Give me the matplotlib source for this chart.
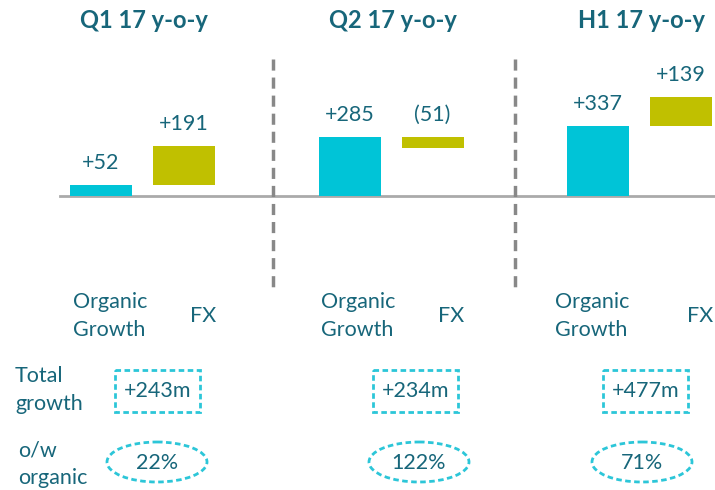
import matplotlib
matplotlib.use("Agg")
import matplotlib.pyplot as plt
from matplotlib.patches import Rectangle, Ellipse

plt.rcParams['font.family'] = ['Lato', 'DejaVu Sans']
plt.rcParams['lines.scale_dashes'] = False

# --- data ---
periods = ['Q1 17 y-o-y', 'Q2 17 y-o-y', 'H1 17 y-o-y']
organic = [52, 285, 337]
fx = [191, -51, 139]
organic_labels = ['+52', '+285', '+337']
fx_labels = ['+191', '(51)', '+139']
total_labels = ['+243m', '+234m', '+477m']
share_labels = ['22%', '122%', '71%']

TEXT = '#17667a'
CYAN = '#00c4d7'
OLIVE = '#c0c000'
DASH = '#2cc6d8'
FS = 15.5

W, H = 715, 490
fig = plt.figure(figsize=(W / 100, H / 100), dpi=100)

# value axis: 0.207 px per unit, baseline 196 px from top
px_per_unit = 0.207
ax = fig.add_axes([0, 0, 1, 1])
ax.set_xlim(0, W)
ax.set_ylim(-(H - 196) / px_per_unit, 196 / px_per_unit)
ax.axis('off')

# overlay in pixel coords (y downwards) for the text furniture
ov = fig.add_axes([0, 0, 1, 1], facecolor='none')
ov.set_xlim(0, W)
ov.set_ylim(H, 0)
ov.axis('off')

group_step = 248.5
bar_w = 62
lab_gap = 12 / px_per_unit

for i in range(3):
    c_org = 101 + i * group_step
    c_fx = c_org + 83
    ax.bar(c_org, organic[i], width=bar_w, color=CYAN, zorder=3)
    ax.bar(c_fx, fx[i], bottom=organic[i], width=bar_w, color=OLIVE, zorder=3)
    ax.text(c_org, organic[i] + lab_gap, organic_labels[i], ha='center', va='bottom',
            fontsize=FS, color=TEXT)
    ax.text(c_fx, max(organic[i], organic[i] + fx[i]) + lab_gap, fx_labels[i],
            ha='center', va='bottom', fontsize=FS, color=TEXT)

    # titles
    ov.text(c_org + 43, 21, periods[i], ha='center', va='center', fontsize=17,
            fontweight='bold', color=TEXT)
    # category labels
    ov.text(c_org - 28 + (i == 2) * -15, 316, 'Organic\nGrowth', ha='left', va='center',
            fontsize=FS, color=TEXT, linespacing=1.55)
    ov.text(c_fx + 19, 316, 'FX', ha='center', va='center', fontsize=FS, color=TEXT)

# baseline and separators
ax.axhline(0, xmin=60 / W, xmax=1, color='#aaaaaa', lw=2, zorder=2)
for sx in [273, 515]:
    ov.plot([sx, sx], [59, 287], color='#888888', lw=2.5, dashes=(8, 5))

# total growth boxes and organic share ellipses
box_x = [157.5, 415.5, 645.5]
ell_x = [157, 419, 642]
for i in range(3):
    ov.add_patch(Rectangle((box_x[i] - 42.5, 370), 85, 42, fill=False, ec=DASH,
                           lw=2, ls=(0, (4, 2.5))))
    ov.text(box_x[i], 391, total_labels[i], ha='center', va='center', fontsize=FS,
            color=TEXT)
    ov.add_patch(Ellipse((ell_x[i], 462), 100, 40, fill=False, ec=DASH, lw=2,
                         ls=(0, (4, 2.5))))
    ov.text(ell_x[i], 463, share_labels[i], ha='center', va='center', fontsize=FS,
            color=TEXT)

ov.text(15, 390, 'Total\ngrowth', ha='left', va='center', fontsize=FS, color=TEXT,
        linespacing=1.55)
ov.text(18, 464, 'o/w\norganic', ha='left', va='center', fontsize=FS, color=TEXT,
        linespacing=1.45)

fig.savefig('out.png', dpi=100)
